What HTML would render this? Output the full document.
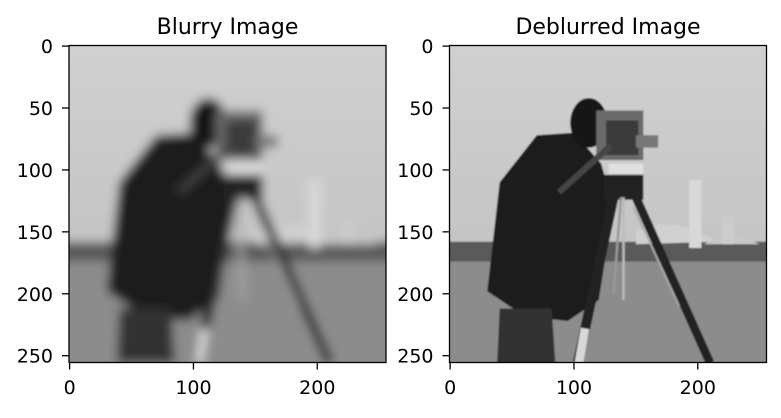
<!DOCTYPE html>
<html><head><meta charset="utf-8"><style>
html,body{margin:0;padding:0;background:#fff;}
svg text{font-family:"DejaVu Sans","Liberation Sans",sans-serif;fill:#000;}
</style></head><body>
<svg id="fig" width="781" height="413" viewBox="0 0 781 413" xmlns="http://www.w3.org/2000/svg">
<defs>
<filter id="blur" x="-5%" y="-5%" width="110%" height="110%"><feGaussianBlur stdDeviation="4"/></filter>
<filter id="soft"><feGaussianBlur stdDeviation="0.6"/></filter>
<clipPath id="clipImg"><rect x="-0.5" y="-0.5" width="256" height="256"/></clipPath>
<linearGradient id="sky" x1="0" y1="0" x2="0" y2="1">
<stop offset="0" stop-color="#d2d2d2"/><stop offset="1" stop-color="#bcbcbc"/></linearGradient>
<g id="scene">
<rect x="-30" y="-30" width="316" height="316" fill="url(#sky)"/>
<rect x="-30" y="170" width="316" height="116" fill="#8c8c8c"/>
<rect x="-30" y="158" width="316" height="16" fill="#5a5a5a"/>
<path d="M150,150 Q180,135 215,158 L150,160 Z" fill="#d0d0d0"/>
<path d="M205,160 Q225,148 250,160 Z" fill="#c8c8c8"/>
<rect x="193" y="108" width="10" height="55" fill="#d8d8d8"/>
<rect x="220" y="138" width="9" height="22" fill="#cccccc"/>
<path d="M30,198 L40,110 L70,72 L100,70 L122,95 L132,130 L120,205 L95,222 L60,218 Z" fill="#1c1c1c"/>
<path d="M40,212 L82,212 L85,256 L38,256 Z" fill="#303030"/>
<ellipse cx="112" cy="62" rx="15" ry="20" fill="#151515"/>
<rect x="118" y="52" width="38" height="40" fill="#6a6a6a"/>
<rect x="126" y="60" width="26" height="28" fill="#3a3a3a"/>
<rect x="150" y="72" width="18" height="10" fill="#777"/>
<rect x="128" y="95" width="28" height="8" fill="#e0e0e0"/>
<rect x="124" y="104" width="32" height="20" fill="#222"/>
<path d="M130,80 L88,118" stroke="#444" stroke-width="5"/>
<path d="M132,122 L103,256" stroke="#202020" stroke-width="8"/>
<path d="M109,228 L104,256" stroke="#d8d8d8" stroke-width="7"/>
<path d="M150,122 L210,256" stroke="#202020" stroke-width="7"/>
<path d="M140,122 L140,205" stroke="#bbb" stroke-width="2"/>
<path d="M138,122 L132,200" stroke="#999" stroke-width="2"/>
<path d="M148,130 L185,210" stroke="#aaa" stroke-width="1.5"/>
</g>
</defs>
<text x="227.5" y="34" font-size="22" text-anchor="middle">Blurry Image</text>
<text x="608" y="34" font-size="22" text-anchor="middle">Deblurred Image</text>
<g id="axL"></g>
<g id="axR"></g>
</svg>
<script>
const ticksX = [0, 100, 200];
const ticksY = [0, 50, 100, 150, 200, 250];
const imgSize = 256;
const NS = "http://www.w3.org/2000/svg";
function mk(tag, attrs, parent){const e=document.createElementNS(NS,tag);for(const k in attrs)e.setAttribute(k,attrs[k]);parent.appendChild(e);return e;}
function drawAxes(g, x0, y0, w, h, blurred){
  const sx = v => x0 + (v + 0.5) * w / imgSize;
  const sy = v => y0 + (v + 0.5) * h / imgSize;
  const im = mk('g',{transform:`translate(${x0+0.5*w/imgSize},${y0+0.5*h/imgSize}) scale(${w/imgSize},${h/imgSize})`,'clip-path':'url(#clipImg)'},g);
  
  
  const inner = mk('g',{filter: blurred ? 'url(#blur)' : 'url(#soft)'},im);
  mk('use',{href:'#scene'},inner);
  const fr = mk('rect',{x:x0,y:y0,width:w,height:h,fill:'none',stroke:'#000','stroke-width':1.3},g);
  
  
  ticksX.forEach(t=>{
    const x=sx(t);
    mk('line',{x1:x,x2:x,y1:y0+h,y2:y0+h+7,stroke:'#000','stroke-width':1.3},g);
    const tx=mk('text',{x:x,y:y0+h+31.5,'font-size':19,'text-anchor':'middle'},g);
    tx.textContent=t;
    
    
  });
  ticksY.forEach(t=>{
    const y=sy(t);
    mk('line',{x1:x0-7,x2:x0,y1:y,y2:y,stroke:'#000','stroke-width':1.3},g);
    const tx=mk('text',{x:x0-16,y:y+7,'font-size':19,'text-anchor':'end'},g);
    tx.textContent=t;
    
    
  });
}
drawAxes(document.getElementById('axL'), 69, 45.5, 317, 317, true);
drawAxes(document.getElementById('axR'), 449.5, 45.5, 317, 317, false);
</script>
</body></html>
